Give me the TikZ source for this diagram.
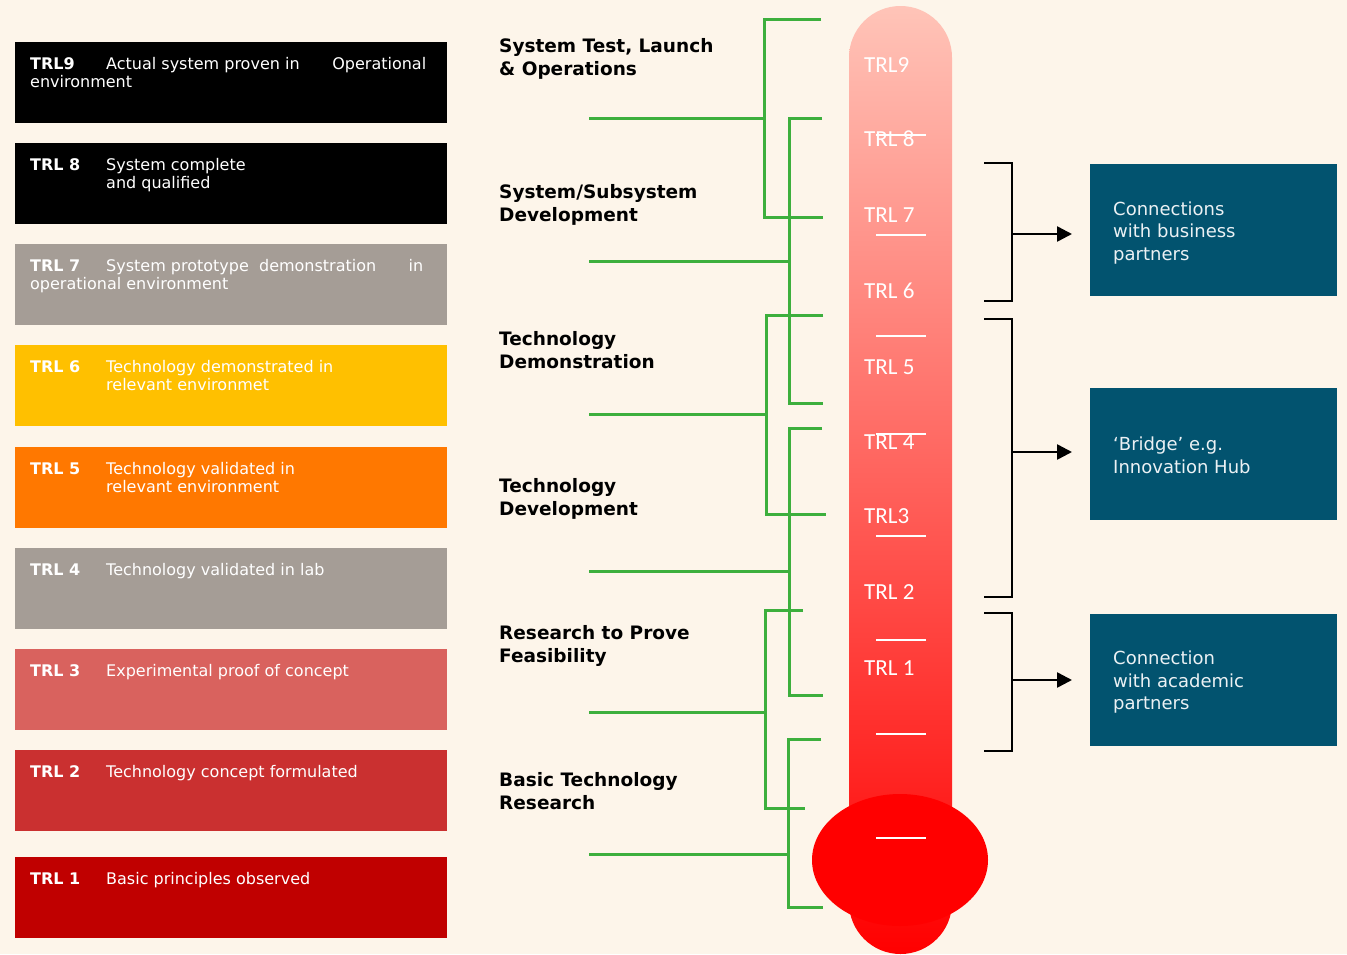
\documentclass[tikz,border=0pt]{standalone}
\usepackage{fontspec}
\setmainfont{DejaVu Sans}
\newfontfamily\gaugefont{Carlito}
\usepackage{xcolor}
\usetikzlibrary{arrows.meta, calc}

\definecolor{paper}{HTML}{FDF5EA}
\definecolor{stone}{HTML}{A59D96}
\definecolor{amber}{HTML}{FFC000}
\definecolor{tangerine}{HTML}{FF7800}
\definecolor{salmon}{HTML}{D9625E}
\definecolor{brick}{HTML}{CA3030}
\definecolor{crimson}{HTML}{C00000}
\definecolor{petrol}{HTML}{02536F}
\definecolor{leaf}{HTML}{3DAF3D}
\definecolor{gaugetop}{HTML}{FFC4B8}

\newcommand{\trltag}[1]{\makebox[76pt][l]{\bfseries #1}}

\tikzset{
	levelbox/.style={anchor=north west, minimum width=432pt, minimum height=81pt, inner sep=0pt},
	leveltext/.style={anchor=base west, inner sep=0pt, text=white, align=left, font=\fontsize{16}{18.5}\selectfont},
	stagetext/.style={anchor=base west, inner sep=0pt, align=left, font=\fontsize{18.5}{23}\selectfont\bfseries},
	gaugetext/.style={anchor=base west, inner sep=0pt, text=white, font=\fontsize{23}{27}\gaugefont},
	partnerbox/.style={anchor=north west, fill=petrol, minimum width=247pt, minimum height=132pt, inner sep=0pt},
	partnertext/.style={anchor=west, inner sep=0pt, align=left, text=white!92!petrol, font=\fontsize{18}{22.5}\selectfont},
	stem/.style={leaf, line width=3pt},
	brk/.style={black, line width=2.5pt},
	tick/.style={white, line width=2.5pt}
}

\begin{document}
\begin{tikzpicture}[x=1pt, y=-1pt]
					\fill[paper] (0,0) rectangle (1347,954);
					\useasboundingbox (0,0) rectangle (1347,954);

					\begin{scope}
						\node[levelbox, fill=black] (box9) at (15,42) {};
						\node[levelbox, fill=black] (box8) at (15,143) {};
						\node[levelbox, fill=stone] (box7) at (15,244) {};
						\node[levelbox, fill=amber] (box6) at (15,345) {};
						\node[levelbox, fill=tangerine] (box5) at (15,447) {};
						\node[levelbox, fill=stone] (box4) at (15,548) {};
						\node[levelbox, fill=salmon] (box3) at (15,649) {};
						\node[levelbox, fill=brick] (box2) at (15,750) {};
						\node[levelbox, fill=crimson] (box1) at (15,857) {};

						\node[leveltext] (txt9) at ([xshift=15pt, yshift=-45.5pt]box9.north west) {\trltag{TRL9}\makebox[320pt][s]{Actual system proven in\hfill Operational}\\environment};
						\node[leveltext] (txt8) at ([xshift=15pt, yshift=-45.5pt]box8.north west) {\trltag{TRL 8}System complete\\\hspace*{76pt}and qualified};
						\node[leveltext] (txt7) at ([xshift=15pt, yshift=-45.5pt]box7.north west) {\trltag{TRL 7}\makebox[317pt][s]{System prototype\ \ demonstration\hfill in}\\operational environment};
						\node[leveltext] (txt6) at ([xshift=15pt, yshift=-45.5pt]box6.north west) {\trltag{TRL 6}Technology demonstrated in\\\hspace*{76pt}relevant environmet};
						\node[leveltext] (txt5) at ([xshift=15pt, yshift=-45.5pt]box5.north west) {\trltag{TRL 5}Technology validated in\\\hspace*{76pt}relevant environment};
						\node[leveltext] (txt4) at ([xshift=15pt, yshift=-27pt]box4.north west) {\trltag{TRL 4}Technology validated in lab};
						\node[leveltext] (txt3) at ([xshift=15pt, yshift=-27pt]box3.north west) {\trltag{TRL 3}Experimental proof of concept};
						\node[leveltext] (txt2) at ([xshift=15pt, yshift=-27pt]box2.north west) {\trltag{TRL 2}Technology concept formulated};
						\node[leveltext] (txt1) at ([xshift=15pt, yshift=-27pt]box1.north west) {\trltag{TRL 1}Basic principles observed};
					\end{scope}

					\begin{scope}
						\node[stagetext] (stage6) at (499,75) {System Test, Launch\\\& Operations};
						\node[stagetext] (stage5) at (499,221.5) {System/Subsystem\\Development};
						\node[stagetext] (stage4) at (499,368.5) {Technology\\Demonstration};
						\node[stagetext] (stage3) at (499,515.5) {Technology\\Development};
						\node[stagetext] (stage2) at (499,662.5) {Research to Prove\\Feasibility};
						\node[stagetext] (stage1) at (499,809.5) {Basic Technology\\Research};
					\end{scope}

					\begin{scope}
						\foreach \ys/\xv/\yt/\xt/\yb/\xb in {118/764/19/821/217/823, 261/789/118/822/403/823, 414/766/315/823/514/826, 571/789/428/822/695/823, 712/765/610/803/808/805, 854/788/739/821/907/823}
						{
							\draw[stem] (589,\ys) -- (\xv,\ys);
							\draw[stem] (\xt,\yt) -- (\xv,\yt) -- (\xv,\yb) -- (\xb,\yb);
						}
					\end{scope}

					\begin{scope}
						\shade[top color=gaugetop, bottom color=red, rounded corners=51.5pt] (849,6) rectangle (952,954);
						\fill[red] (900,860) ellipse [x radius=88pt, y radius=66pt];

						\foreach \y in {135,235,336,434,536,640,734,838}
						{
							\draw[tick] (876,\y) -- (926,\y);
						}

						\foreach \i/\lab/\y in {9/TRL9/72, 8/TRL 8/146.5, 7/TRL 7/222.5, 6/TRL 6/298, 5/TRL 5/374, 4/TRL 4/449, 3/TRL3/523.5, 2/TRL 2/599.5, 1/TRL 1/675}
						{
							\node[gaugetext] (g\i) at (864,\y) {\lab};
						}
					\end{scope}

					\begin{scope}
						\node[partnerbox] (pA) at (1090,164) {};
						\node[partnerbox] (pB) at (1090,388) {};
						\node[partnerbox] (pC) at (1090,614) {};

						\node[partnertext] (tA) at ([xshift=23pt, yshift=-2.5pt]pA.west) {Connections\\with business\\partners};
						\node[partnertext] (tB) at ([xshift=23pt, yshift=-1pt]pB.west) {‘Bridge’ e.g.\\Innovation Hub};
						\node[partnertext] (tC) at ([xshift=23pt, yshift=-2pt]pC.west) {Connection\\with academic\\partners};
					\end{scope}

					\begin{scope}[brk]
						\coordinate (kA) at (1012,234);
						\coordinate (kB) at (1012,452);
						\coordinate (kC) at (1012,680);

						\draw (984,163) -- (1012,163) -- (1012,301) -- (984,301);
						\draw (984,319) -- (1012,319) -- (1012,597) -- (984,597);
						\draw (984,613) -- (1012,613) -- (1012,751) -- (984,751);

						\foreach \k/\p in {kA/pA, kB/pB, kC/pC}
						{
							\draw[-{Triangle[length=15pt, width=15pt]}, shorten >=18pt] (\k) -- (\k -| \p.west);
						}
					\end{scope}
				\end{tikzpicture}
\end{document}
